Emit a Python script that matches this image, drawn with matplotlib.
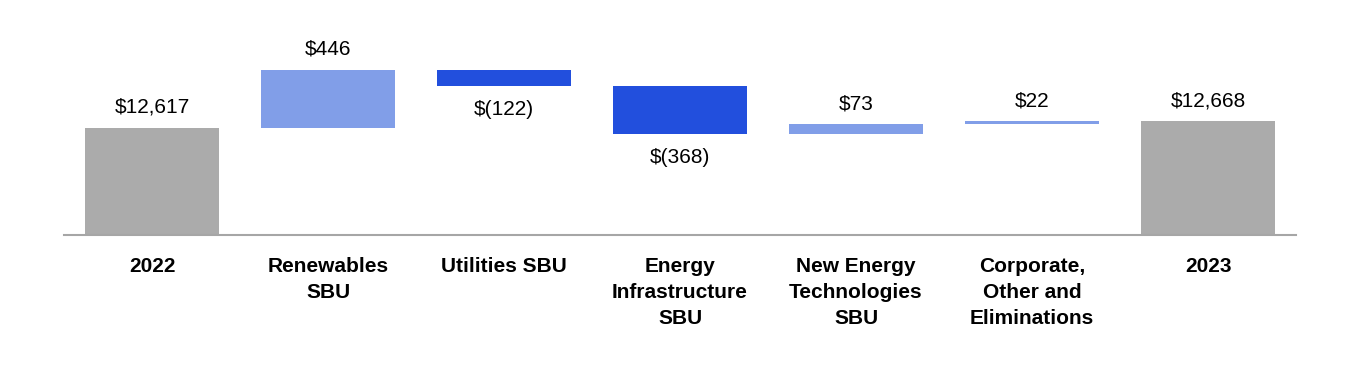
import matplotlib
matplotlib.use("Agg")
import matplotlib.pyplot as plt

categories = ["2022", "Renewables\nSBU", "Utilities SBU", "Energy\nInfrastructure\nSBU",
              "New Energy\nTechnologies\nSBU", "Corporate,\nOther and\nEliminations", "2023"]
start_total = 12617
changes = [446, -122, -368, 73, 22]
end_total = 12668
labels = ["$12,617", "$446", "$(122)", "$(368)", "$73", "$22", "$12,668"]

GRAY = "#ababab"
LIGHT = "#819ee8"
DARK = "#224fdd"

plt.rcParams['font.family'] = ['Liberation Sans', 'DejaVu Sans']

fig = plt.figure(figsize=(13.6, 3.9), dpi=100)
ax = fig.add_axes([64/1360, (390-235)/390, 1232/1360, 215/390])

base = 11794
ax.set_xlim(-0.5, 6.5)
ax.set_ylim(base, base + 215/0.13)

width = 0.76
# start bar
ax.bar(0, start_total - base, bottom=base, width=width, color=GRAY)
ax.annotate(labels[0], (0, start_total), xytext=(0, 8), textcoords="offset points",
            ha="center", va="bottom", fontsize=15)
running = start_total
for i, ch in enumerate(changes, start=1):
    if ch >= 0:
        ax.bar(i, ch, bottom=running, width=width, color=LIGHT)
        ax.annotate(labels[i], (i, running + ch), xytext=(0, 8), textcoords="offset points",
                    ha="center", va="bottom", fontsize=15)
    else:
        ax.bar(i, -ch, bottom=running + ch, width=width, color=DARK)
        ax.annotate(labels[i], (i, running + ch), xytext=(0, -10), textcoords="offset points",
                    ha="center", va="top", fontsize=15)
    running += ch
ax.bar(6, end_total - base, bottom=base, width=width, color=GRAY)
ax.annotate(labels[6], (6, end_total), xytext=(0, 8), textcoords="offset points",
            ha="center", va="bottom", fontsize=15)

ax.set_xticks(range(len(categories)))
ax.set_xticklabels(categories, fontsize=15, fontweight="bold", linespacing=1.45)
ax.tick_params(axis="x", length=0, pad=16)
ax.set_yticks([])
for s in ["top", "right", "left"]:
    ax.spines[s].set_visible(False)
ax.spines["bottom"].set_color("#a6a6a6")
ax.spines["bottom"].set_linewidth(1.5)

fig.savefig("out.png", dpi=100)
